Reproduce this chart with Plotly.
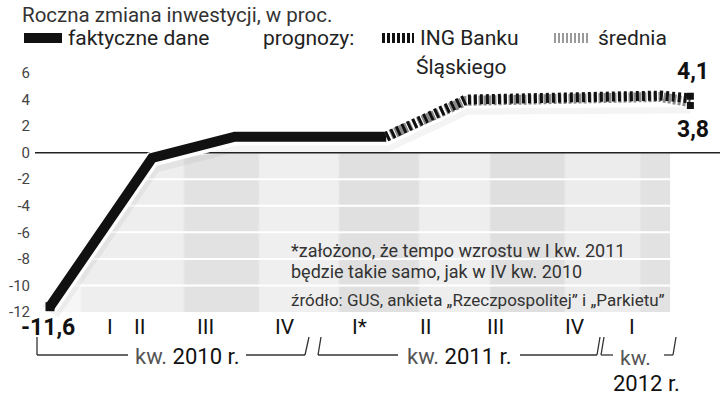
import plotly.graph_objects as go

# ---------------- data ----------------
title_text = "Roczna zmiana inwestycji, w proc."
actual_x = [0.0, 1.31, 2.37, 4.31]          # quarter positions
actual_y = [-11.6, -0.4, 1.2, 1.2]
forecast_x = [4.31, 5.33, 7.82, 8.21]
ing_y = [1.2, 4.0, 4.3, 4.1]
avg_y = [1.2, 3.9, 4.2, 3.8]
quarter_labels = ["I", "II", "III", "IV", "I*", "II", "III", "IV", "I"]
quarter_pos = [0.77, 1.15, 1.99, 3.01, 3.97, 4.81, 5.71, 6.73, 7.46]
y_ticks = [6, 4, 2, 0, -2, -4, -6, -8, -10, -12]
first_label = "-11,6"
ing_label = "4,1"
avg_label = "3,8"
fill_end_x = 7.95

# ---------------- layout geometry ----------------
W, H = 720, 398
L, R, T, B = 35, 0, 60, 78
PW, PH = W - L - R, H - T - B
X0PX, PXQ = 50, 78.0
x_range = [(L - X0PX) / PXQ, (W - R - X0PX) / PXQ]
PPU = (312 - 73) / 18.0
y_range = [-12 - (320 - 312) / PPU, 6 + (73 - 60) / PPU]

def pxx(x):
    return (x - L) / PW

def pxy(y):
    return (H - B - y) / PH

FN = "Roboto, Lato, sans-serif"
FR = "Roboto, Open Sans, sans-serif"

fig = go.Figure()

# shaded area below zero
fx = actual_x + [fill_end_x, fill_end_x, actual_x[0]]
fy = [min(v, 0) for v in actual_y] + [0, y_ticks[-1], y_ticks[-1]]
cs = []
bounds = [0, 0.05, 0.216, 0.337, 0.466, 0.595, 0.71, 0.83, 0.952, 1.0]
cols = ["#f6f6f6", "#eeeeee", "#e2e2e2", "#efefef", "#e0e0e0", "#eeeeee", "#dfdfdf", "#ececec", "#e2e2e2"]
for i in range(len(bounds) - 1):
    a, b = bounds[i], bounds[i + 1]
    cs.append([a + (0.002 if i else 0), cols[i]])
    cs.append([b - (0.002 if i < len(bounds) - 2 else 0), cols[i]])
fig.add_trace(go.Scatter(
    x=fx, y=fy, mode="lines", fill="toself", line=dict(width=0),
    fillcolor="#e6e6e6",
    fillgradient=dict(type="horizontal", colorscale=cs, start=actual_x[0], stop=fill_end_x),
    hoverinfo="skip", showlegend=False))

# white gridlines inside the shaded area
for v in y_ticks:
    if v < 0 and v > y_ticks[-1]:
        fig.add_trace(go.Scatter(x=[actual_x[0], fill_end_x], y=[v, v], mode="lines",
                                 line=dict(color="white", width=2), hoverinfo="skip", showlegend=False))

# zero line
fig.add_trace(go.Scatter(x=[x_range[0], x_range[1]], y=[0, 0], mode="lines",
                         line=dict(color="#222", width=1.5), hoverinfo="skip", showlegend=False))

# soft shadow + white outline under lines
all_x = actual_x + forecast_x[1:]
all_y = actual_y + ing_y[1:]
fig.add_trace(go.Scatter(x=all_x, y=[v - 0.4 for v in all_y], mode="lines",
                         line=dict(color="rgba(0,0,0,0.045)", width=20), hoverinfo="skip", showlegend=False))
fig.add_trace(go.Scatter(x=all_x, y=[v - 0.1 for v in all_y], mode="lines",
                         line=dict(color="white", width=15), hoverinfo="skip", showlegend=False))

# actual data
fig.add_trace(go.Scatter(x=actual_x, y=actual_y, mode="lines",
                         line=dict(color="#111", width=10), showlegend=False))
# forecasts
fig.add_trace(go.Scatter(x=forecast_x, y=avg_y, mode="lines",
                         line=dict(color="#8a8a8a", width=10, dash="3px,2px"), showlegend=False))
fig.add_trace(go.Scatter(x=forecast_x, y=ing_y, mode="lines",
                         line=dict(color="#111", width=10, dash="3px,3px"), showlegend=False))
fig.add_trace(go.Scatter(x=[forecast_x[-1], forecast_x[-1]], y=[ing_y[-1] + 0.15, avg_y[-1] - 0.25],
                         mode="markers", marker=dict(symbol="square", size=7, color="#111"),
                         showlegend=False))
fig.add_trace(go.Scatter(x=[actual_x[0]], y=[actual_y[0]], mode="markers",
                         marker=dict(symbol="square", size=9, color="#111"), showlegend=False))

ann = []
ann.append(dict(text=title_text, x=pxx(20), y=pxy(15), xanchor="left", yanchor="middle",
                font=dict(family=FN, size=20.5, color="#333")))
# legend
ann.append(dict(text="faktyczne dane", x=pxx(66), y=pxy(38), xanchor="left", yanchor="middle",
                font=dict(family=FN, size=21, color="#222")))
ann.append(dict(text="prognozy:", x=pxx(261), y=pxy(38), xanchor="left", yanchor="middle",
                font=dict(family=FN, size=21, color="#222")))
ann.append(dict(text="ING Banku", x=pxx(418), y=pxy(38), xanchor="left", yanchor="middle",
                font=dict(family=FN, size=21, color="#222")))
ann.append(dict(text="Śląskiego", x=pxx(414), y=pxy(67), xanchor="left", yanchor="middle",
                font=dict(family=FN, size=21, color="#222")))
ann.append(dict(text="średnia", x=pxx(596), y=pxy(38), xanchor="left", yanchor="middle",
                font=dict(family=FN, size=21, color="#222")))
# quarter labels
for lab, pos in zip(quarter_labels, quarter_pos):
    ann.append(dict(text=lab, x=pos, xref="x", y=pxy(327), xanchor="center", yanchor="middle",
                    font=dict(family=FN, size=21, color="#111")))
ann.append(dict(text="<b>" + first_label + "</b>", x=pxx(48), y=pxy(327),
                xanchor="center", yanchor="middle", font=dict(family=FN, size=23, color="#111")))
ann.append(dict(text="<b>" + ing_label + "</b>", x=pxx(693), y=pxy(72), xanchor="center", yanchor="middle",
                font=dict(family=FN, size=23, color="#111")))
ann.append(dict(text="<b>" + avg_label + "</b>", x=pxx(693), y=pxy(129), xanchor="center", yanchor="middle",
                font=dict(family=FN, size=23, color="#111")))
# notes
ann.append(dict(text="*założono, że tempo wzrostu w I kw. 2011", x=pxx(289), y=pxy(250), xanchor="left",
                yanchor="middle", font=dict(family=FN, size=18, color="#333")))
ann.append(dict(text="będzie takie samo, jak w IV kw. 2010", x=pxx(289), y=pxy(271), xanchor="left",
                yanchor="middle", font=dict(family=FN, size=18, color="#333")))
ann.append(dict(text="źródło: GUS, ankieta „Rzeczpospolitej” i „Parkietu”", x=pxx(289), y=pxy(300),
                xanchor="left", yanchor="middle", font=dict(family=FN, size=17, color="#333")))
# year brackets
KW = "<span style='color:#555'>kw.</span> "
ann.append(dict(text=KW + "2010 r.", x=pxx(187), y=pxy(356), xanchor="center", yanchor="middle",
                font=dict(family=FN, size=22, color="#111")))
ann.append(dict(text=KW + "2011 r.", x=pxx(459), y=pxy(356), xanchor="center", yanchor="middle",
                font=dict(family=FN, size=22, color="#111")))
ann.append(dict(text="<span style='color:#555'>kw.</span>", x=pxx(635), y=pxy(358), xanchor="center",
                yanchor="middle", font=dict(family=FN, size=21, color="#111")))
ann.append(dict(text="2012 r.", x=pxx(646), y=pxy(383), xanchor="center", yanchor="middle",
                font=dict(family=FN, size=22, color="#111")))
for a in ann:
    a.setdefault("xref", "paper")
    a["yref"] = "paper"
    a["showarrow"] = False

shapes = []
def seg(x0, y0, x1, y1, color="#333", width=1.3, dash=None):
    d = dict(type="line", xref="paper", yref="paper", x0=pxx(x0), y0=pxy(y0), x1=pxx(x1), y1=pxy(y1),
             line=dict(color=color, width=width))
    if dash:
        d["line"]["dash"] = dash
    shapes.append(d)

# legend icons
seg(24, 38, 62, 38, "#111", 10)
seg(382, 38, 414, 38, "#111", 10, "3px,2px")
seg(554, 38, 590, 38, "#9a9a9a", 10, "2px,2px")
# brackets
seg(37, 337, 37, 355); seg(37, 355, 128, 355); seg(246, 355, 305, 355); seg(305, 355, 309, 337)
seg(321, 337, 318, 355); seg(318, 355, 398, 355); seg(520, 355, 597, 355); seg(597, 355, 600, 337)
seg(604, 337, 601, 355); seg(601, 355, 613, 355); seg(664, 355, 673, 355); seg(673, 355, 676, 337)

fig.update_layout(
    width=W, height=H, margin=dict(l=L, r=R, t=T, b=B),
    paper_bgcolor="white", plot_bgcolor="white",
    xaxis=dict(range=x_range, showgrid=False, zeroline=False, showticklabels=False, fixedrange=True),
    yaxis=dict(range=y_range, tickvals=y_ticks, ticktext=[str(v) for v in y_ticks], showgrid=False,
               zeroline=False, ticks="", ticklabelstandoff=4, fixedrange=True,
               tickfont=dict(family=FR, size=15, color="#444")),
    annotations=ann, shapes=shapes, showlegend=False,
)
fig.write_html("out.html", config={"displayModeBar": False},
               post_script="document.body.style.margin='0';document.body.style.overflow='hidden';")
